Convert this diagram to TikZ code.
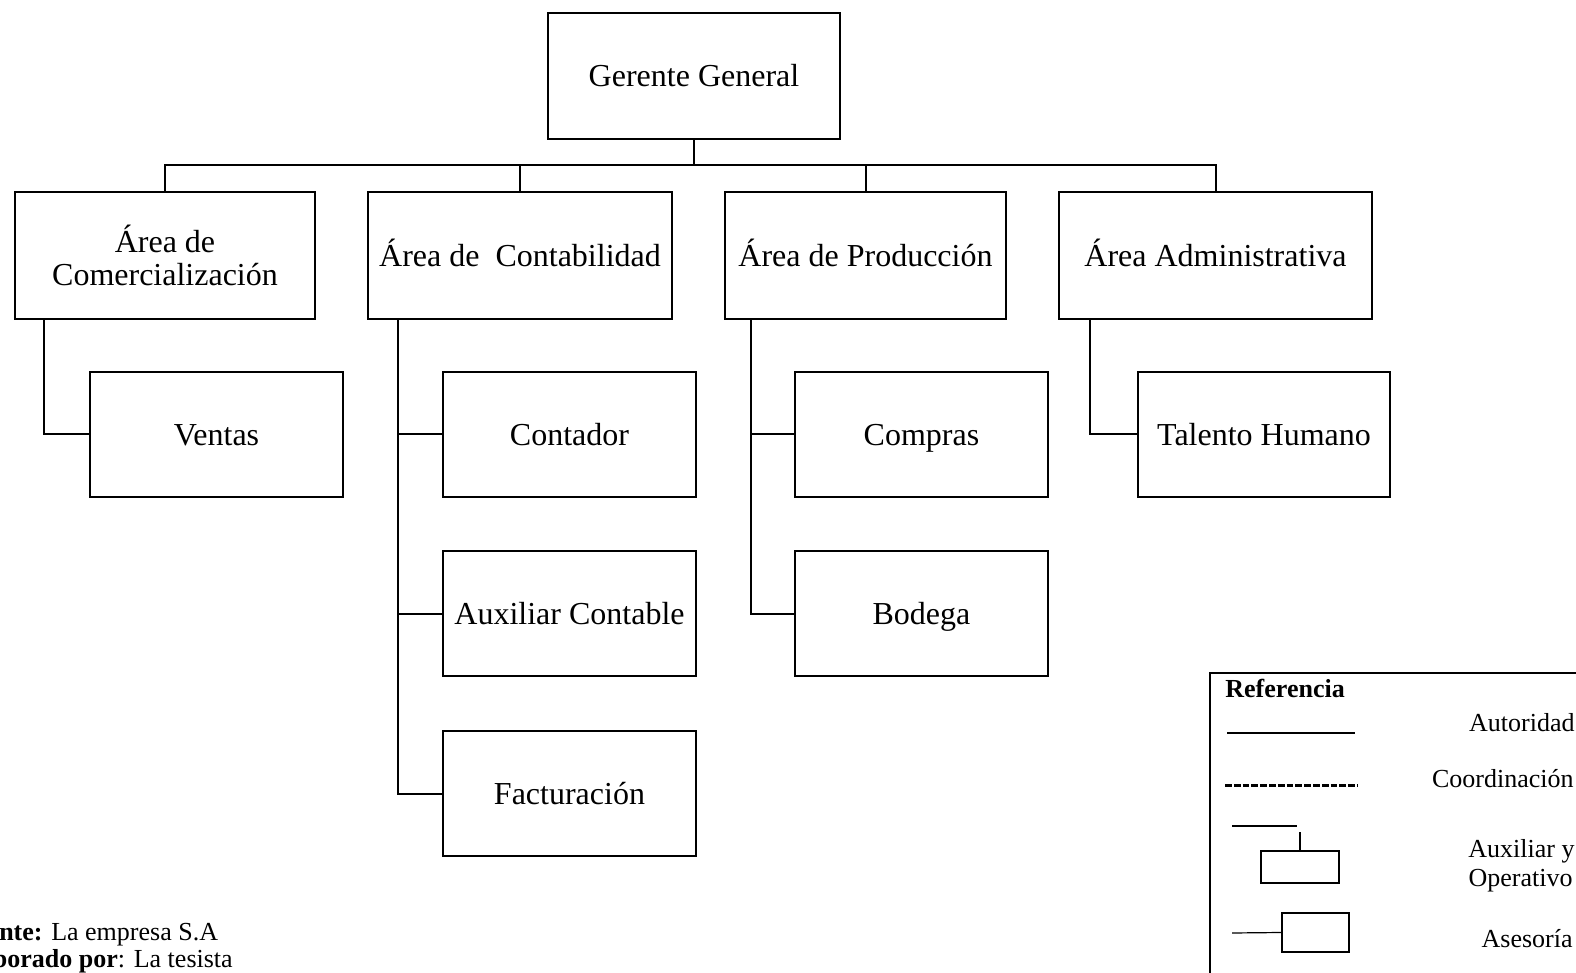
\documentclass[tikz,border=0pt]{standalone}
\usepackage{fontspec}
\setmainfont{Liberation Serif}
\begin{document}
\begin{tikzpicture}[x=0.5pt,y=-0.5pt,
  box/.style={draw,line width=1.25pt,inner sep=0pt,align=center,
    font=\fontsize{16}{16.5}\selectfont},
  oneline/.style={text height=11pt,text depth=0pt},
  top/.style={box,oneline,minimum width=146pt,minimum height=63pt},
  area/.style={box,minimum height=63.5pt},
  unit/.style={box,oneline,minimum width=126.5pt,minimum height=62.5pt},
  link/.style={line width=1pt},
  legtext/.style={font=\fontsize{13}{14}\selectfont,inner sep=0pt},
  legbox/.style={draw,line width=1pt,inner sep=0pt}]
\useasboundingbox (0,0) rectangle (1576,973);
\clip (0,0) rectangle (1576,973);

% top level
\node[top] (g) at (694,76) {Gerente General};

% areas
\node[area,minimum width=150pt]           (com)  at (165,255.5)   {Área de\\Comercialización};
\node[area,oneline,minimum width=152pt]   (cont) at (520,255.5)   {Área de~ Contabilidad};
\node[area,oneline,minimum width=140.5pt] (prod) at (865.5,255.5) {Área de Producción};
\node[area,oneline,minimum width=156.5pt] (adm)  at (1215.5,255.5){Área Administrativa};

% units
\node[unit] (ventas)   at (216.5,434.5) {Ventas};
\node[unit] (contador) at (569.5,434.5) {Contador};
\node[unit] (auxc)     at (569.5,613.5) {Auxiliar Contable};
\node[unit] (fact)     at (569.5,793.5) {Facturación};
\node[unit] (compras)  at (921.5,434.5) {Compras};
\node[unit] (bodega)   at (921.5,613.5) {Bodega};
\node[unit,minimum width=126pt] (talento) at (1264,434.5) {Talento Humano};

% main bus
\coordinate (bus) at (0,165);
\draw[link] (g.south) -- (g.south |- bus);
\draw[link] (com.north) -- (com.north |- bus) -| (adm.north);
\draw[link] (cont.north) -- (cont.north |- bus);
\draw[link] (prod.north) -- (prod.north |- bus);

% spines to units
\coordinate (s1) at ([xshift=15pt]com.south west);
\coordinate (s2) at ([xshift=15.5pt]cont.south west);
\coordinate (s3) at ([xshift=13.5pt]prod.south west);
\coordinate (s4) at ([xshift=16pt]adm.south west);
\draw[link] (s1) |- (ventas.west);
\draw[link] (s2) |- (fact.west);
\draw[link] (contador.west) -- (contador.west -| s2);
\draw[link] (auxc.west) -- (auxc.west -| s2);
\draw[link] (s3) |- (bodega.west);
\draw[link] (compras.west) -- (compras.west -| s3);
\draw[link] (s4) |- (talento.west);

% legend
\draw[line width=1pt] (1210,673) rectangle (1620,1010);
\node[legtext,anchor=base west] (reftitle) at (1225,697) {\textbf{Referencia}};
\coordinate (a1) at (1227,733);
\coordinate (a2) at (1355,733);
\draw[line width=0.6pt] (a1) -- (a2);
\node[legtext,anchor=base east] (autoridad) at (1575,731) {Autoridad};
\coordinate (c1) at (1225,785);
\coordinate (c2) at (1358,785);
\draw[line width=1.5pt,dash pattern=on 3.4pt off 1pt] (c1) -- (c2);
\node[legtext,anchor=base east] (coord) at (1574,787) {Coordinación};
\node[legbox,minimum width=39pt,minimum height=16pt] (auxbox) at (1300,867) {};
\coordinate (x1) at (1232,826);
\coordinate (x2) at (1297,826);
\draw[line width=0.6pt] (x1) -- (x2);
\draw[line width=0.6pt] ([yshift=-3pt]auxbox.north |- x2) -- (auxbox.north);
\node[legtext,anchor=base east] (auxy) at (1575,857) {Auxiliar y};
\node[legtext,anchor=base east] (oper) at (1573,886) {Operativo};
\node[legbox,minimum width=33.5pt,minimum height=19.5pt] (asebox) at (1315.5,932.5) {};
\coordinate (e1) at (1232,933);
\draw[line width=0.6pt] (e1) -- (asebox.west);
\node[legtext,anchor=base east] (asesoria) at (1573,947) {Asesoría};

% source note
\node[legtext,anchor=base west] (fuente) at (-43,940) {\textbf{Fuente:} La empresa S.A};
\node[legtext,anchor=base west] (elab) at (-45,967) {\textbf{Elaborado por}: La tesista};
\end{tikzpicture}
\end{document}
